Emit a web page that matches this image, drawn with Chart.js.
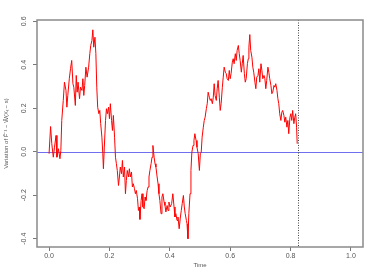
<!DOCTYPE html>
<html>
<head>
<meta charset="utf-8">
<script src="https://cdn.jsdelivr.net/npm/chart.js@4"></script>
<style>
  html, body { margin: 0; padding: 0; background: #fff; }
  #wrap { width: 382px; height: 273px; }
</style>
</head>
<body>
<div id="wrap"><canvas id="chart" width="382" height="273"></canvas></div>
<script>
// values
const times = [
  0.000, 0.005, 0.009, 0.014, 0.018, 0.023, 0.026, 0.031, 0.036, 0.039,
  0.042, 0.047, 0.051, 0.056, 0.059, 0.062, 0.067, 0.071, 0.075, 0.079,
  0.082, 0.087, 0.090, 0.093, 0.096, 0.101, 0.104, 0.109, 0.112, 0.115,
  0.118, 0.122, 0.126, 0.131, 0.135, 0.138, 0.142, 0.145, 0.148, 0.152,
  0.155, 0.158, 0.161, 0.165, 0.168, 0.171, 0.175, 0.178, 0.180, 0.183,
  0.187, 0.190, 0.193, 0.197, 0.200, 0.203, 0.207, 0.210, 0.213, 0.217,
  0.220, 0.223, 0.226, 0.230, 0.233, 0.236, 0.240, 0.243, 0.246, 0.250,
  0.253, 0.256, 0.259, 0.263, 0.266, 0.269, 0.273, 0.276, 0.279, 0.283,
  0.286, 0.289, 0.293, 0.296, 0.299, 0.301, 0.305, 0.308, 0.311, 0.315,
  0.318, 0.321, 0.325, 0.328, 0.331, 0.334, 0.338, 0.341, 0.344, 0.348,
  0.351, 0.354, 0.358, 0.361, 0.364, 0.367, 0.371, 0.374, 0.377, 0.381,
  0.384, 0.387, 0.391, 0.394, 0.397, 0.401, 0.406, 0.410, 0.414, 0.417,
  0.420, 0.424, 0.427, 0.431, 0.435, 0.438, 0.441, 0.445, 0.448, 0.451,
  0.455, 0.457, 0.460, 0.463, 0.467, 0.470, 0.473, 0.477, 0.480, 0.483,
  0.487, 0.490, 0.494, 0.498, 0.501, 0.504, 0.507, 0.511, 0.514, 0.517,
  0.521, 0.524, 0.527, 0.531, 0.534, 0.537, 0.541, 0.544, 0.547, 0.550,
  0.554, 0.557, 0.560, 0.564, 0.567, 0.570, 0.574, 0.577, 0.580, 0.584,
  0.587, 0.590, 0.594, 0.597, 0.600, 0.603, 0.607, 0.610, 0.613, 0.617,
  0.620, 0.623, 0.627, 0.630, 0.633, 0.637, 0.640, 0.643, 0.647, 0.650,
  0.653, 0.657, 0.660, 0.662, 0.665, 0.668, 0.672, 0.675, 0.678, 0.682,
  0.685, 0.688, 0.692, 0.695, 0.698, 0.702, 0.705, 0.708, 0.712, 0.715,
  0.718, 0.721, 0.725, 0.728, 0.731, 0.735, 0.738, 0.741, 0.745, 0.748,
  0.751, 0.755, 0.758, 0.761, 0.764, 0.768, 0.771, 0.774, 0.778, 0.781,
  0.784, 0.788, 0.791, 0.794, 0.798, 0.801, 0.804, 0.807, 0.811, 0.814,
  0.817, 0.820, 0.822
];
const variation = [
  -0.009, 0.116, 0.037, -0.025, 0.021, 0.075, -0.025, 0.014, -0.032, 0.006,
  0.144, 0.236, 0.320, 0.282, 0.205, 0.259, 0.336, 0.382, 0.420, 0.313,
  0.297, 0.213, 0.351, 0.274, 0.320, 0.244, 0.297, 0.282, 0.336, 0.259,
  0.305, 0.389, 0.343, 0.389, 0.451, 0.489, 0.512, 0.561, 0.481, 0.527,
  0.451, 0.297, 0.205, 0.175, 0.190, 0.129, 0.067, -0.009, -0.078, 0.021,
  0.144, 0.198, 0.175, 0.205, 0.152, 0.221, 0.144, 0.098, 0.167, 0.067,
  -0.025, -0.055, -0.086, -0.155, -0.116, -0.070, -0.101, -0.040, -0.116, -0.070,
  -0.193, -0.132, -0.086, -0.116, -0.078, -0.116, -0.093, -0.162, -0.147, -0.170,
  -0.193, -0.178, -0.216, -0.270, -0.254, -0.311, -0.224, -0.193, -0.254, -0.262,
  -0.208, -0.224, -0.178, -0.162, -0.116, -0.086, -0.055, -0.025, 0.029, -0.025,
  -0.055, -0.070, -0.116, -0.147, -0.193, -0.224, -0.285, -0.208, -0.193, -0.231,
  -0.247, -0.277, -0.247, -0.270, -0.231, -0.254, -0.239, -0.193, -0.254, -0.300,
  -0.285, -0.316, -0.300, -0.354, -0.300, -0.270, -0.239, -0.201, -0.254, -0.285,
  -0.316, -0.331, -0.400, -0.285, -0.193, -0.086, -0.002, 0.029, 0.052, 0.083,
  0.052, 0.021, -0.009, -0.086, -0.009, -0.002, 0.067, 0.113, 0.144, 0.159,
  0.198, 0.221, 0.274, 0.251, 0.236, 0.244, 0.221, 0.251, 0.313, 0.259,
  0.236, 0.290, 0.328, 0.251, 0.190, 0.221, 0.297, 0.343, 0.389, 0.366,
  0.359, 0.336, 0.328, 0.374, 0.336, 0.359, 0.412, 0.428, 0.405, 0.451,
  0.420, 0.466, 0.489, 0.451, 0.420, 0.366, 0.405, 0.443, 0.359, 0.320,
  0.336, 0.405, 0.428, 0.481, 0.539, 0.466, 0.435, 0.389, 0.366, 0.320,
  0.290, 0.343, 0.351, 0.382, 0.320, 0.405, 0.374, 0.336, 0.351, 0.336,
  0.290, 0.328, 0.389, 0.366, 0.336, 0.305, 0.267, 0.274, 0.305, 0.297,
  0.313, 0.282, 0.244, 0.221, 0.175, 0.144, 0.182, 0.190, 0.167, 0.136,
  0.159, 0.113, 0.144, 0.083, 0.159, 0.175, 0.144, 0.190, 0.129, 0.159,
  0.175, 0.113, 0.037
];
const xTicks = [0.0, 0.2, 0.4, 0.6, 0.8, 1.0];
const yTicks = [-0.4, -0.2, 0.0, 0.2, 0.4, 0.6];
const cutTime = 0.824;
const refLevel = 0;

const tickFont = "7px 'Liberation Sans', Arial, sans-serif";

// box, reference lines, rotated y labels and axis titles
const decor = {
    id: "decor",
    beforeDatasetsDraw(chart) {
        const ctx = chart.ctx;
        const a = chart.chartArea;
        const xs = chart.scales.x, ys = chart.scales.y;
        ctx.save();
        // horizontal line at 0
        const y0 = ys.getPixelForValue(refLevel);
        ctx.strokeStyle = "#6f6ff0";
        ctx.lineWidth = 1;
        ctx.beginPath();
        ctx.moveTo(a.left, Math.round(y0) + 0.5);
        ctx.lineTo(a.right, Math.round(y0) + 0.5);
        ctx.stroke();
        // dotted vertical line
        const xc = xs.getPixelForValue(cutTime);
        ctx.strokeStyle = "#444";
        ctx.setLineDash([1, 1.5]);
        ctx.beginPath();
        ctx.moveTo(Math.round(xc) + 0.5, a.top);
        ctx.lineTo(Math.round(xc) + 0.5, a.bottom);
        ctx.stroke();
        ctx.restore();
    },
    afterDraw(chart) {
        const ctx = chart.ctx;
        const a = chart.chartArea;
        const ys = chart.scales.y;
        ctx.save();
        ctx.strokeStyle = "#8a8a8a";
        ctx.lineWidth = 1.5;
        ctx.strokeRect(a.left, a.top, a.right - a.left, a.bottom - a.top);

        ctx.fillStyle = "#555";
        ctx.font = tickFont;
        ctx.textAlign = "center";
        ctx.textBaseline = "middle";
        yTicks.forEach(function (v) {
            const py = ys.getPixelForValue(v);
            ctx.save();
            ctx.translate(24, py);
            ctx.rotate(-Math.PI / 2);
            ctx.fillText(v.toFixed(1), 0, 0);
            ctx.restore();
        });

        ctx.font = "6px 'Liberation Sans', Arial, sans-serif";
        ctx.fillText("Time", (a.left + a.right) / 2, 265);
        ctx.save();
        ctx.translate(6, (a.top + a.bottom) / 2);
        ctx.rotate(-Math.PI / 2);
        ctx.fillText("Variation of F\u0302\u207B\u00B9 \u2212 W\u0302(X\u209C \u2212 s)", 0, 0);
        ctx.restore();
        ctx.restore();
    }
};

const points = times.map(function (t, i) { return { x: t, y: variation[i] }; });

new Chart(document.getElementById("chart"), {
    type: "line",
    data: {
        datasets: [
            {
                data: points,
                borderColor: "#ff0000",
                borderWidth: 1,
                pointRadius: 0,
                tension: 0,
                fill: false,
            },
        ],
    },
    options: {
        responsive: false,
        animation: false,
        layout: { padding: { top: 20, right: 19, left: 0, bottom: 0 } },
        plugins: { legend: { display: false }, tooltip: { enabled: false } },
        scales: {
            x: {
                type: "linear",
                min: -0.04,
                max: 1.04,
                afterBuildTicks: function (axis) {
                    axis.ticks = xTicks.map(function (v) { return { value: v }; });
                },
                afterFit: function (axis) { axis.height = 26; },
                grid: { drawOnChartArea: false, drawTicks: true, tickLength: 4, color: "#777" },
                border: { display: false },
                ticks: {
                    color: "#555",
                    font: { family: "'Liberation Sans', Arial, sans-serif", size: 7 },
                    padding: 1,
                    maxRotation: 0,
                    callback: function (v) { return Number(v).toFixed(1); },
                },
            },
            y: {
                type: "linear",
                min: -0.438,
                max: 0.606,
                afterBuildTicks: function (axis) {
                    axis.ticks = yTicks.map(function (v) { return { value: v }; });
                },
                afterFit: function (axis) { axis.width = 37; },
                grid: { drawOnChartArea: false, drawTicks: true, tickLength: 4, color: "#777" },
                border: { display: false },
                ticks: { display: false },
            },
        },
    },
    plugins: [decor],
});
</script>
</body>
</html>
